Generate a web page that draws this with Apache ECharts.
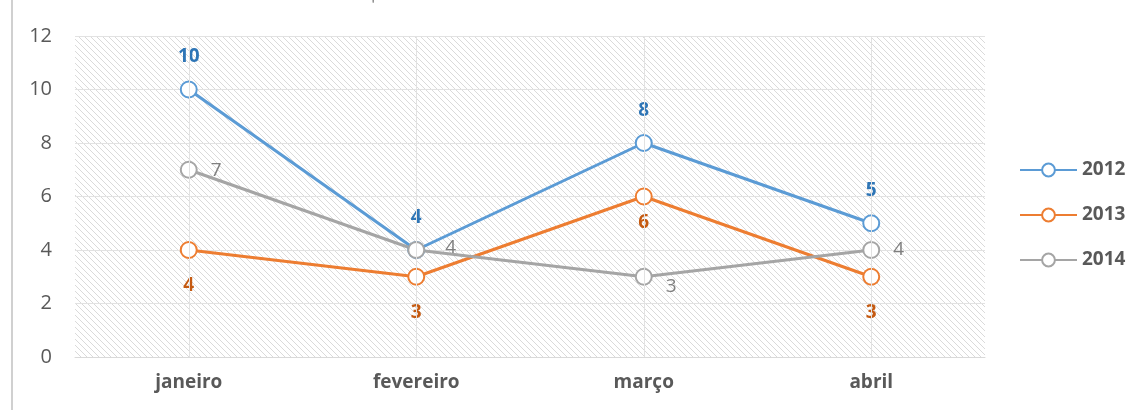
<!DOCTYPE html>
<html><head><meta charset="utf-8">
<script src="https://cdn.jsdelivr.net/npm/echarts@6/dist/echarts.min.js"></script>
<style>html,body{margin:0;padding:0;background:#fff}#c{width:1146px;height:410px}</style>
</head><body><div id="c"></div>
<script>
const categories = ['janeiro', 'fevereiro', 'março', 'abril'];
const s2012 = [10, 4, 8, 5];
const s2013 = [4, 3, 6, 3];
const s2014 = [7, 4, 3, 4];
const yTicks = [0, 2, 4, 6, 8, 10, 12];

// label offsets (style only)
const off2012 = [[0, -14], [0, -14], [0, -14], [0, -14]];
const off2013 = [[0, 17], [0, 17], [0, 8], [0, 17]];
const off2014 = [[13, 1], [20, -2], [13, 10], [13, 0]];

const s = 6;
const cv = document.createElement('canvas');
cv.width = s; cv.height = s;
const cx = cv.getContext('2d');
cx.fillStyle = '#ffffff'; cx.fillRect(0, 0, s, s);
cx.strokeStyle = '#dadada'; cx.lineWidth = 1;
cx.beginPath();
cx.moveTo(0, 0); cx.lineTo(s, s);
cx.moveTo(-2, s - 2); cx.lineTo(2, s + 2);
cx.moveTo(s - 2, -2); cx.lineTo(s + 2, 2);
cx.stroke();

const font = '"Open Sans", "DejaVu Sans", sans-serif';
const chart = echarts.init(document.getElementById('c'), null, {renderer: 'canvas'});
function mk(name, vals, offs, color, lblColor, pos, bold) {
  return {
    name, type: 'line', z: 3,
    data: vals.map((v, i) => ({value: v, label: {offset: offs[i]}})),
    symbol: 'emptyCircle', symbolSize: 16,
    lineStyle: {color, width: 3},
    itemStyle: {color, borderColor: color, borderWidth: 3.5},
    label: {show: true, position: pos, distance: 0, color: lblColor,
      textBorderWidth: 0, fontFamily: font, fontSize: 19, fontWeight: bold ? 'bold' : 'normal'},
    emphasis: {disabled: true}
  };
}
chart.setOption({
  animation: false,
  grid: {left: 75, right: 161, top: 36, bottom: 53, show: true,
    backgroundColor: {image: cv, repeat: 'repeat'}, borderWidth: 0},
  graphic: [
    {type: 'line', shape: {x1: 12, y1: 0, x2: 12, y2: 410}, style: {stroke: '#d0d0d0', lineWidth: 2}},
    {type: 'text', left: 372, top: 0, style: {text: "'", fill: '#595959', font: '12px sans-serif'}}
  ],
  legend: {
    orient: 'vertical', left: 1014, top: 155, itemGap: 25,
    itemWidth: 57, itemHeight: 16, data: ['2012', '2013', '2014'],
    textStyle: {color: '#595959', fontFamily: font, fontSize: 19, lineHeight: 20, fontWeight: 'bold'}
  },
  xAxis: {
    type: 'category', data: categories, boundaryGap: true,
    axisLine: {lineStyle: {color: '#d9d9d9'}},
    axisTick: {show: false},
    axisLabel: {color: '#595959', fontFamily: font, fontSize: 19, fontWeight: 'bold', margin: 16},
    splitLine: {show: false}
  },
  yAxis: {
    type: 'value', min: yTicks[0], max: yTicks[yTicks.length - 1], interval: 2,
    axisLine: {show: false}, axisTick: {show: false},
    axisLabel: {color: '#595959', fontFamily: font, fontSize: 20, margin: 23},
    splitLine: {lineStyle: {color: '#e2e2e2'}}
  },
  series: [
    {name: 'grid', type: 'line', data: s2014, z: 1, symbol: 'none', silent: true,
      lineStyle: {opacity: 0}, label: {show: false},
      markLine: {silent: true, symbol: 'none', label: {show: false},
        lineStyle: {color: '#e2e2e2', width: 1, type: 'solid'},
        data: categories.map(c => ({xAxis: c}))}},
    mk('2012', s2012, off2012, '#5b9bd5', '#2e75b6', 'top', true),
    mk('2013', s2013, off2013, '#ed7d31', '#c55a11', 'bottom', true),
    mk('2014', s2014, off2014, '#a5a5a5', '#7f7f7f', 'right', false)
  ]
});
</script></body></html>
